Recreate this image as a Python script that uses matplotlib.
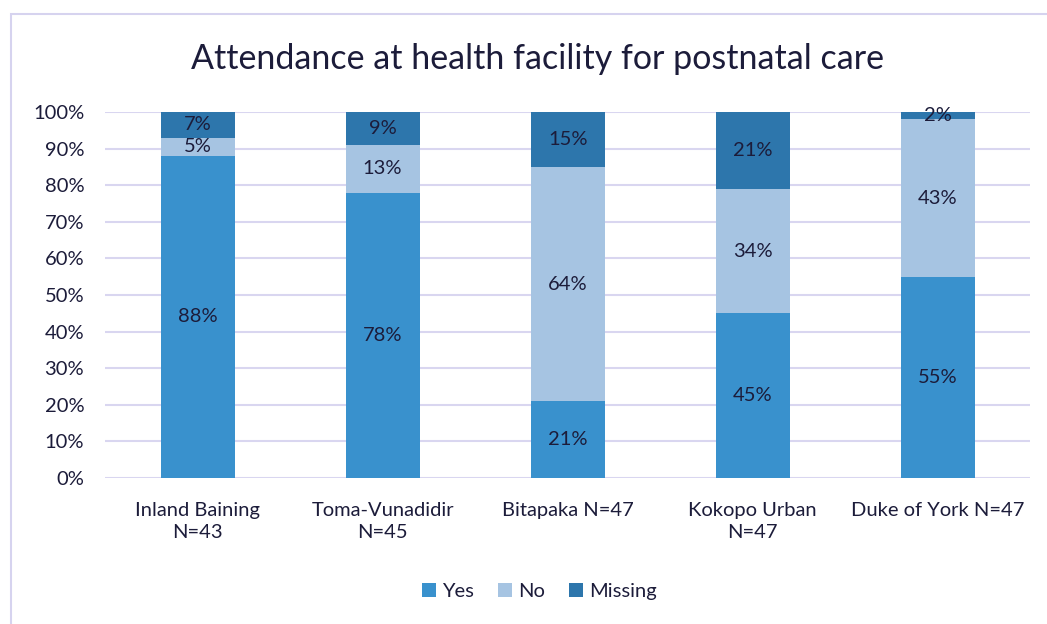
import numpy as np
import matplotlib.pyplot as plt
from matplotlib.patches import Rectangle

plt.rcParams['font.family'] = ['Lato', 'DejaVu Sans']

# data
sites = ["Inland Baining\nN=43", "Toma-Vunadidir\nN=45", "Bitapaka N=47",
         "Kokopo Urban\nN=47", "Duke of York N=47"]
yes = [88, 78, 21, 45, 55]
no = [5, 13, 64, 34, 43]
missing = [7, 9, 15, 21, 2]

series = ["Yes", "No", "Missing"]
colors = ["#3991cd", "#a6c4e2", "#2d76ac"]
text_col = "#1c1c3a"

fig = plt.figure(figsize=(10.47, 6.24), dpi=100)
ax = fig.add_axes([0.1003, 0.234, 0.8837, 0.5865])

# light frame around the chart
fig.patches.append(Rectangle((11 / 1047, -0.1), 1.2, 1 - 14 / 624 + 0.1,
                             transform=fig.transFigure, fill=False,
                             edgecolor="#d6d3ef", linewidth=1.5))

x = np.arange(len(sites))
bottom = np.zeros(len(sites))
for name, vals, c in zip(series, [yes, no, missing], colors):
    vals = np.array(vals)
    bars = ax.bar(x, vals / 100, 0.4, bottom=bottom / 100, color=c,
                  label=name, zorder=3)
    for xi, b, v in zip(x, bottom, vals):
        ax.text(xi, (b + v / 2) / 100, f"{v}%", ha="center", va="center",
                fontsize=14.5, color=text_col, zorder=4)
    bottom += vals

ax.set_xlim(-0.5, len(sites) - 0.5)
ax.set_ylim(0, 1)
ax.set_yticks(np.arange(0, 1.01, 0.1))
ax.set_yticklabels([f"{int(round(t * 100))}%" for t in np.arange(0, 1.01, 0.1)])
ax.set_xticks(x)
ax.set_xticklabels(sites, linespacing=1.4)
ax.tick_params(length=0, labelsize=14.5, colors=text_col)
ax.tick_params(axis="x", pad=17)
ax.tick_params(axis="y", pad=15)
ax.grid(axis="y", color="#d9d6f0", linewidth=1.5, zorder=0)
for s in ax.spines.values():
    s.set_visible(False)

fig.text(0.513, 0.905, "Attendance at health facility for postnatal care",
         ha="center", va="center", fontsize=24.5, color=text_col)

fig.legend(loc="center", bbox_to_anchor=(0.515, 0.052), ncol=3, frameon=False,
           fontsize=14.5, handlelength=0.7, handleheight=0.7, handletextpad=0.3,
           columnspacing=1.2, labelcolor=text_col)

fig.savefig("out.png", dpi=100)
